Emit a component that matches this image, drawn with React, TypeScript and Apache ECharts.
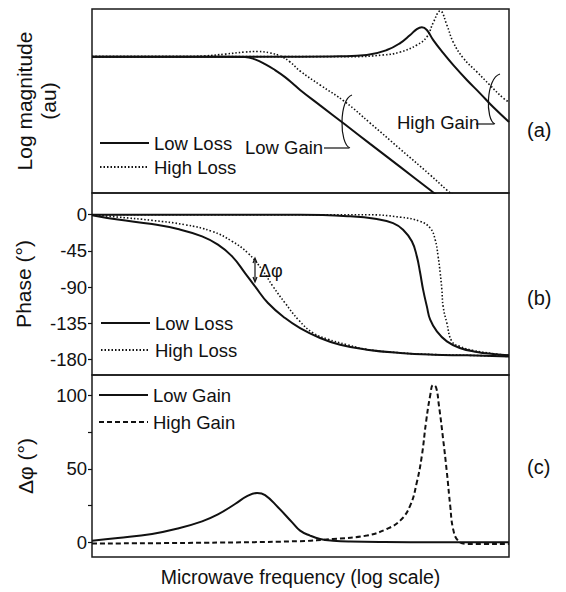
import React, { useEffect, useRef } from "react";
import * as echarts from "echarts";

const FONT_H = '"Liberation Sans", Arial, sans-serif';
const FONT_R = '"Liberation Sans", Arial, sans-serif';
const INK = "#111";

// x = position along the log-frequency axis (0..100, arbitrary units)
// (a) log magnitude (arbitrary units, 0..100)
const magLowGainLowLoss = [
  [0, 74.1], [14.4, 74.1], [30.7, 74.1], [36.7, 73.9], [39.1, 72.6], [41.5, 70.1],
  [43.9, 66.8], [46.3, 63.0], [48.0, 59.8], [49.9, 56.0], [54.7, 47.6], [60.7, 37.2],
  [66.7, 26.7], [73.9, 14.2], [81.1, 1.6], [83.5, -2.6],
];
const magLowGainHighLoss = [
  [0, 74.1], [21.1, 74.1], [27.1, 74.5], [31.9, 75.5], [36.7, 76.6], [39.8, 76.9],
  [42.7, 76.1], [45.1, 74.5], [47.5, 71.2], [49.9, 66.3], [54.7, 58.7], [60.7, 49.5],
  [66.7, 38.0], [73.9, 23.9], [81.1, 9.8], [85.1, 1.6], [87.1, -2.2],
];
const magHighGainLowLoss = [
  [0, 74.1], [49.9, 74.1], [59.5, 74.3], [65.9, 75.0], [70.7, 77.7], [73.9, 81.5],
  [76.3, 85.9], [77.9, 89.1], [79.1, 90.1], [80.3, 88.6], [81.8, 83.2], [84.2, 76.1],
  [86.6, 69.6], [89.9, 61.4], [93.0, 54.3], [96.2, 46.7], [100, 38.6],
];
const magHighGainHighLoss = [
  [0, 74.1], [61.9, 74.1], [69.8, 75.0], [73.9, 76.6], [77.9, 80.4], [80.3, 84.8],
  [81.8, 92.4], [83.5, 98.9], [85.1, 91.3], [86.6, 82.1], [89.0, 73.4], [92.3, 65.8],
  [95.4, 58.7], [98.6, 51.6], [100, 49.5],
];

// (b) phase in degrees
const phaseLowGainLowLoss = [
  [0, -0.5], [6.2, -6], [14.4, -11.6], [20.6, -17.8], [26.4, -26.9], [30.2, -37.2],
  [33.6, -51.7], [36.7, -72.4], [39.1, -89], [42.2, -109.6], [46.3, -128.3],
  [49.9, -140.7], [54.7, -153], [59.5, -161.4], [65.9, -167.6], [73.9, -171.7],
  [81.8, -173.8], [89.9, -174.6], [100, -175.9],
];
const phaseLowGainHighLoss = [
  [0, 0], [6.2, -2.9], [14.4, -7], [22.3, -12.4], [28.8, -20.7], [33.6, -33],
  [37.4, -47.6], [40.8, -68.3], [43.4, -89], [46.3, -109.6], [49.6, -131],
  [53.0, -146.8], [56.4, -154.3], [61.2, -161.4], [65.9, -167.2], [73.9, -171.5],
  [81.8, -173.6], [89.9, -174.5], [100, -175.9],
];
const phaseHighGainLowLoss = [
  [0, 0], [49.9, 0], [61.9, -2], [68.3, -5.4], [72.2, -10.4], [74.6, -18.6],
  [76.7, -33], [77.9, -51.7], [78.7, -72.4], [79.4, -93], [80.3, -113.8],
  [81.1, -130.3], [82.7, -144.8], [85.1, -157.3], [88.2, -165.5], [92.3, -170.5],
  [96.2, -173], [100, -174.6],
];
const phaseHighGainHighLoss = [
  [0, 0], [65.9, 0], [73.9, -3], [78.7, -8.3], [81.1, -16.6], [82.3, -31],
  [83.0, -51.7], [83.5, -72.4], [83.9, -93], [84.2, -113.8], [85.1, -134.5],
  [86.3, -157.3], [88.2, -163.5], [91.4, -168.5], [96.2, -172.5], [100, -174.6],
];

// (c) phase difference in degrees
const dphiLowGain = [
  [0, 1.1], [6.2, 2.9], [14.4, 5.7], [20.6, 9.4], [26.4, 14.3], [30.2, 19.0],
  [34.3, 26.1], [37.4, 31.8], [39.6, 33.6], [41.5, 32.2], [44.6, 23.9], [48.0, 13.6],
  [49.9, 8], [52.3, 4.6], [54.7, 2.3], [57.8, 1.1], [61.9, 0.5], [70, 0.2], [100, 0],
];
const dphiHighGain = [
  [0, -0.8], [22.3, -0.4], [49.9, 0.8], [57.8, 2.3], [65.9, 4.6], [70.7, 9.1],
  [73.9, 14.8], [76.3, 25], [77.9, 40.9], [79.1, 59], [80.1, 81.8], [81.1, 100],
  [81.8, 107.2], [82.5, 105.7], [83.2, 93.2], [84.2, 70.4], [85.1, 47.7],
  [85.9, 25], [86.6, 9.1], [87.8, 1.1], [89.9, -1.1], [100, -1.1],
];

const phaseTicks = [0, -45, -90, -135, -180];
const dphiTicks = [0, 50, 100];
const dphiTickMarks = [0, 25, 50, 75, 100];
const lossNames = ["Low Loss", "High Loss"];
const gainNames = ["Low Gain", "High Gain"];
const panelLabels = ["(a)", "(b)", "(c)"];

const solid = { color: INK, width: 2, type: "solid" as const };
const dotted = { color: INK, width: 1.6, type: [1.5, 2] as any };
const dashed = { color: INK, width: 2, type: [5, 3] as any };

function line(name: string, data: number[][], idx: number, style: any) {
  return {
    type: "line",
    name,
    data,
    xAxisIndex: idx,
    yAxisIndex: idx,
    smooth: 0.45,
    symbol: "none",
    showSymbol: false,
    lineStyle: style,
    itemStyle: { color: INK },
    clip: true,
  };
}

export default function App() {
  const ref = useRef<HTMLDivElement>(null);
  useEffect(() => {
    if (!ref.current) return;
    const chart = echarts.init(ref.current, undefined, { renderer: "svg" });
    const grids = [
      { left: 92, top: 9, width: 417, height: 184 },
      { left: 92, top: 193, width: 417, height: 182 },
      { left: 92, top: 375, width: 417, height: 182 },
    ].map((g) => ({ ...g, show: true, borderColor: "#1a1a1a", borderWidth: 1.5, backgroundColor: "transparent" }));

    const xAxes = [0, 1, 2].map((i) => ({
      type: "value",
      gridIndex: i,
      min: 0,
      max: 100,
      axisLine: { show: false },
      axisTick: { show: false },
      axisLabel: { show: false },
      splitLine: { show: false },
      name: i === 2 ? "Microwave frequency (log scale)" : "",
      nameLocation: "middle",
      nameGap: 10,
      nameTextStyle: { fontFamily: FONT_H, fontSize: 19.5, color: INK },
    }));

    const labelStyle = { fontFamily: FONT_H, fontSize: 18.5, color: INK, margin: 5 };
    const nameStyle = { fontFamily: FONT_R, fontSize: 21, color: INK, lineHeight: 24 };
    const yAxes: any[] = [
      {
        type: "value", gridIndex: 0, min: 0, max: 100,
        axisLine: { show: false }, axisTick: { show: false }, axisLabel: { show: false },
        splitLine: { show: false },
        name: "Log magnitude\n(au)", nameLocation: "middle", nameRotate: 90, nameGap: 32,
        nameTextStyle: nameStyle,
      },
      {
        type: "value", gridIndex: 1, min: -199, max: 27,
        axisLine: { show: false },
        axisTick: { show: true, inside: false, length: 4, customValues: phaseTicks, lineStyle: { color: INK, width: 1.2 } },
        axisLabel: { ...labelStyle, customValues: phaseTicks },
        splitLine: { show: false },
        name: "Phase (°)", nameLocation: "middle", nameRotate: 90, nameGap: 57,
        nameTextStyle: nameStyle,
      },
      {
        type: "value", gridIndex: 2, min: -10, max: 114,
        axisLine: { show: false },
        axisTick: { show: true, inside: false, length: 4, customValues: dphiTickMarks, lineStyle: { color: INK, width: 1.2 } },
        axisLabel: { ...labelStyle, customValues: dphiTicks },
        splitLine: { show: false },
        name: "Δφ (°)", nameLocation: "middle", nameRotate: 90, nameGap: 55,
        nameTextStyle: nameStyle,
      },
    ];

    const legendText = { fontFamily: FONT_H, fontSize: 18.5, color: INK, lineHeight: 19 };
    const legendBase = {
      orient: "vertical", padding: 0, itemWidth: 49, itemHeight: 10,
      textStyle: legendText, selectedMode: false,
      itemStyle: { color: "rgba(0,0,0,0)", borderWidth: 0, borderColor: "rgba(0,0,0,0)" },
    };
    const legends = [
      { ...legendBase, data: lossNames, left: 99, top: 133.5, itemGap: 5 },
      { ...legendBase, data: lossNames, left: 100, top: 313.5, itemGap: 8 },
      { ...legendBase, data: gainNames, left: 98, top: 385.5, itemGap: 8 },
    ];

    const series = [
      line("Low Loss", magLowGainLowLoss, 0, solid),
      line("High Loss", magLowGainHighLoss, 0, dotted),
      line("Low Loss", magHighGainLowLoss, 0, solid),
      line("High Loss", magHighGainHighLoss, 0, dotted),
      line("Low Loss", phaseLowGainLowLoss, 1, solid),
      line("High Loss", phaseLowGainHighLoss, 1, dotted),
      line("Low Loss", phaseHighGainLowLoss, 1, solid),
      line("High Loss", phaseHighGainHighLoss, 1, dotted),
      line("Low Gain", dphiLowGain, 2, solid),
      line("High Gain", dphiHighGain, 2, dashed),
    ];

    const txt = (text: string, x: number, y: number, size: number, family = FONT_H) => ({
      type: "text", x, y, silent: true,
      style: { text, fontSize: size, fontFamily: family, fill: INK, align: "left", verticalAlign: "middle" },
    });
    const stroke = { stroke: INK, lineWidth: 1.2, fill: "none" };
    const panelY = [130, 298, 467];

    const graphic = [
      txt("Low Gain", 245, 147, 18.5),
      txt("High Gain", 397, 122, 18.5),
      txt("Δφ", 259, 271, 18),
      ...panelLabels.map((l, i) => txt(l, 527, panelY[i], 20)),
      { type: "line", shape: { x1: 324, y1: 148, x2: 349, y2: 148 }, style: stroke, silent: true },
      { type: "bezierCurve", shape: { x1: 352, y1: 95, cpx1: 339, cpy1: 99, cpx2: 339, cpy2: 144, x2: 350, y2: 148 }, style: stroke, silent: true },
      { type: "line", shape: { x1: 476, y1: 124, x2: 494, y2: 124 }, style: stroke, silent: true },
      { type: "bezierCurve", shape: { x1: 500, y1: 74, cpx1: 486, cpy1: 78, cpx2: 485, cpy2: 120, x2: 495, y2: 124 }, style: stroke, silent: true },
      { type: "line", shape: { x1: 255, y1: 259, x2: 255, y2: 281 }, style: stroke, silent: true },
      { type: "polyline", shape: { points: [[253, 263], [255, 258], [257, 263]] }, style: stroke, silent: true },
      { type: "polyline", shape: { points: [[253, 277], [255, 282], [257, 277]] }, style: stroke, silent: true },
    ];

    chart.setOption({
      animation: false,
      backgroundColor: "#fff",
      textStyle: { fontFamily: FONT_H, color: INK },
      grid: grids,
      xAxis: xAxes,
      yAxis: yAxes,
      legend: legends,
      series,
      graphic,
    } as any);
    return () => chart.dispose();
  }, []);
  return (
    <div
      ref={ref}
      style={{ position: "fixed", left: 0, top: 0, width: 566, height: 592, background: "#fff" }}
    />
  );
}
